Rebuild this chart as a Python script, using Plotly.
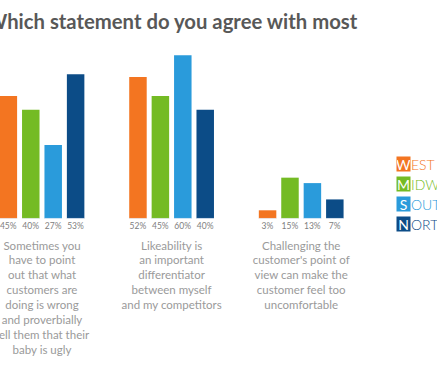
import plotly.graph_objects as go

# ---- data ----
categories = ["c1", "c2", "c3"]
category_labels = [
    "Sometimes you<br>have to point<br>out that what<br>customers are<br>doing is wrong<br>and proverbially<br>tell them that their<br>baby is ugly",
    "Likeability is<br>an important<br>differentiator<br>between myself<br>and my competitors",
    "Challenging the<br>customer's point of<br>view can make the<br>customer feel too<br>uncomfortable",
]
regions = ["WEST", "MIDWEST", "SOUTH", "NORTHEAST"]
west = [45, 52, 3]
midwest = [40, 45, 15]
south = [27, 60, 13]
northeast = [53, 40, 7]
series = [west, midwest, south, northeast]
colors = ["#F37521", "#74BB24", "#2A9BDB", "#0C4C87"]
title_text = "Which statement do you agree with most"

# ---- layout geometry ----
W, H = 437, 365
ML, MR, MT, MB = 0, 71, 42, 146
PW, PH = W - ML - MR, H - MT - MB
PX_PER_UNIT = 2.72
Y_LO = -0.2


def px_x(p):
    return (p - ML) / PW


def px_y(p):
    return (H - MB - p) / PH


fig = go.Figure()
for name, vals, col in zip(regions, series, colors):
    fig.add_trace(go.Bar(
        x=categories, y=vals, name=name, marker_color=col,
        marker_line_width=0, offsetgroup=name, showlegend=False,
    ))
    # label carrier (near-zero bar) so value labels sit under each bar
    fig.add_trace(go.Bar(
        x=categories, y=[-0.01] * len(vals), offsetgroup=name,
        marker_color="rgba(0,0,0,0)", showlegend=False, hoverinfo="skip",
        text=[f"{v}%" for v in vals], textposition="outside",
        outsidetextfont=dict(size=8.5, color="#808080", family="Lato"),
        constraintext="none", cliponaxis=False,
    ))

annotations = [dict(
    text=title_text, xref="paper", yref="paper", x=px_x(-16), y=px_y(21),
    xanchor="left", yanchor="middle", showarrow=False,
    font=dict(size=20.3, color="#585858", family="Lato", weight="bold"),
)]
legend_y = [164, 184, 204, 224]
for name, col, yy in zip(regions, colors, legend_y):
    annotations.append(dict(
        text=name[0], xref="paper", yref="paper", x=px_x(396), y=px_y(yy),
        xanchor="left", yanchor="middle", showarrow=False, width=13, height=14,
        bgcolor=col, borderpad=0, align="center",
        font=dict(size=14, color="white", family="Lato"),
    ))
    annotations.append(dict(
        text=name[1:], xref="paper", yref="paper", x=px_x(409), y=px_y(yy),
        xanchor="left", yanchor="middle", showarrow=False,
        font=dict(size=14, color=col, family="Lato", weight=300),
    ))

fig.update_layout(
    width=W, height=H,
    margin=dict(l=ML, r=MR, t=MT, b=MB, pad=0),
    paper_bgcolor="white", plot_bgcolor="white",
    barmode="group", bargap=0.308, bargroupgap=0.22,
    showlegend=False,
    annotations=annotations,
    xaxis=dict(
        type="category", range=[-0.324, 2.5], showgrid=False, zeroline=False,
        showline=False, ticks="", tickvals=categories, ticktext=category_labels,
        tickfont=dict(size=11.5, color="#9a9a9a", family="Lato"),
        ticklabelstandoff=18, automargin=False,
    ),
    yaxis=dict(range=[Y_LO, Y_LO + PH / PX_PER_UNIT], visible=False,
               fixedrange=True, automargin=False),
)

fig.write_html(
    "out.html",
    config={"displayModeBar": False},
    post_script="document.body.style.margin='0';document.body.style.padding='0';",
)
